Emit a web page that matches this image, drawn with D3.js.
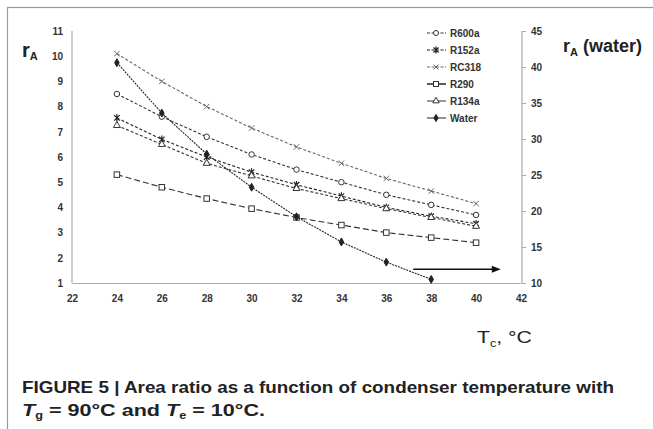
<!DOCTYPE html>
<html>
<head>
<meta charset="utf-8">
<script src="https://cdn.jsdelivr.net/npm/d3@7"></script>
<style>
  body { margin: 0; background: #fff; }
  svg { display: block; }
</style>
</head>
<body>
<svg id="chart" width="653" height="429"></svg>
<script>
// condenser temperature (°C)
const temps = [24, 26, 28, 30, 32, 34, 36, 38, 40];
const tempsWater = [24, 26, 28, 30, 32, 34, 36, 38];

const r600a = [8.5, 7.6, 6.8, 6.1, 5.5, 5.0, 4.5, 4.1, 3.7];
const r152a = [7.55, 6.7, 6.0, 5.4, 4.9, 4.45, 4.0, 3.65, 3.35];
const rc318 = [10.1, 9.0, 8.0, 7.15, 6.4, 5.75, 5.15, 4.65, 4.15];
const r290 = [5.3, 4.8, 4.35, 3.95, 3.6, 3.3, 3.0, 2.8, 2.6];
const r134a = [7.25, 6.5, 5.75, 5.25, 4.75, 4.35, 3.95, 3.6, 3.25];
const water = [40.6, 33.6, 27.9, 23.3, 19.2, 15.7, 12.9, 10.5];

const xTicks = [22, 24, 26, 28, 30, 32, 34, 36, 38, 40, 42];
const yTicks = [1, 2, 3, 4, 5, 6, 7, 8, 9, 10, 11];
const y2Ticks = [10, 15, 20, 25, 30, 35, 40, 45];

// arrow pointing at the water axis
const arrowX = [37.2, 41.1];
const arrowY = 11.9;

const series = [
  { name: 'R600a', values: r600a, x: temps, marker: 'circle', color: '#333', dash: '3,2', axis: 'left' },
  { name: 'R152a', values: r152a, x: temps, marker: 'star', color: '#222', dash: '3,2', axis: 'left' },
  { name: 'RC318', values: rc318, x: temps, marker: 'cross', color: '#666', dash: '3,2', axis: 'left' },
  { name: 'R290', values: r290, x: temps, marker: 'square', color: '#333', dash: '6,3', axis: 'left' },
  { name: 'R134a', values: r134a, x: temps, marker: 'triangle', color: '#333', dash: '3,2', axis: 'left' },
  { name: 'Water', values: water, x: tempsWater, marker: 'diamond', color: '#222', dash: '2,1', axis: 'right' }
];

const svg = d3.select('#chart');

// outer frame
svg.append('rect')
  .attr('x', 7.5).attr('y', 7.5)
  .attr('width', 700).attr('height', 500)
  .attr('fill', 'none').attr('stroke', '#999').attr('stroke-width', 1.2);

const x = d3.scaleLinear().domain([22, 42]).range([72, 521]);
const y = d3.scaleLinear().domain([1, 11]).range([283, 31]);
const y2 = d3.scaleLinear().domain([10, 45]).range([283, 31]);

const tickFont = 'bold 10px "Liberation Sans", Arial, sans-serif';

const gx = svg.append('g').attr('transform', 'translate(0,283)')
  .call(d3.axisBottom(x).tickValues(xTicks).tickSize(0).tickPadding(12).tickFormat(d3.format('d')));
const gy = svg.append('g').attr('transform', 'translate(72,0)')
  .call(d3.axisLeft(y).tickValues(yTicks).tickSize(0).tickPadding(9).tickFormat(d3.format('d')));
const gy2 = svg.append('g').attr('transform', 'translate(522,0)')
  .call(d3.axisRight(y2).tickValues(y2Ticks).tickSize(4).tickPadding(5).tickFormat(d3.format('d')));

[gx, gy, gy2].forEach(g => {
  g.select('.domain').attr('stroke', '#aaa').attr('stroke-width', 1.2);
  g.selectAll('.tick line').attr('stroke', '#aaa');
  g.selectAll('.tick text').style('font', tickFont).attr('fill', '#333');
});
gy.select('.domain').attr('d', 'M0,283V31');
gy2.select('.domain').attr('d', 'M0,283V31');

function drawMarker(g, type, cx, cy, s, color) {
  const m = g.append('g').attr('transform', `translate(${cx},${cy})`);
  if (type === 'circle') {
    m.append('circle').attr('r', s * 0.5).attr('fill', '#fff').attr('stroke', color).attr('stroke-width', 1);
  } else if (type === 'square') {
    m.append('rect').attr('x', -s / 2).attr('y', -s / 2).attr('width', s).attr('height', s)
      .attr('fill', '#fff').attr('stroke', color).attr('stroke-width', 1);
  } else if (type === 'triangle') {
    m.append('path').attr('d', d3.symbol(d3.symbolTriangle, s * s * 0.7)())
      .attr('fill', '#fff').attr('stroke', color).attr('stroke-width', 1);
  } else if (type === 'diamond') {
    m.append('path').attr('d', d3.symbol(d3.symbolDiamond, s * s * 0.6)())
      .attr('fill', color).attr('stroke', color);
  } else if (type === 'cross') {
    const h = s / 2;
    m.append('path').attr('d', `M${-h},${-h}L${h},${h}M${-h},${h}L${h},${-h}`)
      .attr('stroke', color).attr('stroke-width', 1);
  } else if (type === 'star') {
    const h = s / 2;
    m.append('path').attr('d', `M${-h},${-h}L${h},${h}M${-h},${h}L${h},${-h}M0,${-h - 1}V${h + 1}`)
      .attr('stroke', color).attr('stroke-width', 1.2);
  }
}

const plot = svg.append('g');

series.forEach(s => {
  const ys = s.axis === 'left' ? y : y2;
  const pts = s.values.map((v, i) => [x(s.x[i]), ys(v)]);
  plot.append('path')
    .attr('d', d3.line()(pts))
    .attr('fill', 'none')
    .attr('stroke', s.color)
    .attr('stroke-width', 1.1)
    .attr('stroke-dasharray', s.dash);
  pts.forEach(p => drawMarker(plot, s.marker, p[0], p[1], 5.5, s.color));
});

// arrow toward right axis
const ax0 = x(arrowX[0]), ax1 = x(arrowX[1]), ay = y2(arrowY);
plot.append('line')
  .attr('x1', ax0).attr('y1', ay).attr('x2', ax1 - 6).attr('y2', ay)
  .attr('stroke', '#111').attr('stroke-width', 1.4);
plot.append('path')
  .attr('d', `M${ax1},${ay}L${ax1 - 9},${ay - 3.5}L${ax1 - 9},${ay + 3.5}Z`)
  .attr('fill', '#111');

// legend
const legend = svg.append('g');
series.forEach((s, i) => {
  const ly = 33 + i * 17;
  const lineDash = (s.name === 'R290' || s.name === 'Water' || s.name === 'R134a') ? null : '3,1.5';
  legend.append('line')
    .attr('x1', 427).attr('x2', 446).attr('y1', ly).attr('y2', ly)
    .attr('stroke', s.color)
    .attr('stroke-width', s.name === 'R290' ? 1.6 : 1)
    .attr('stroke-dasharray', lineDash);
  drawMarker(legend, s.marker, 436, ly, 5, s.color);
  legend.append('text')
    .attr('x', 450).attr('y', ly + 3.5)
    .style('font', 'bold 10px "Liberation Sans", Arial, sans-serif')
    .attr('fill', '#333')
    .text(s.name);
});

// axis titles
const leftTitle = svg.append('text').attr('x', 22).attr('y', 57)
  .style('font', 'bold 20px "Liberation Sans", Arial, sans-serif').attr('fill', '#222');
leftTitle.append('tspan').text('r');
leftTitle.append('tspan').attr('dy', 3).style('font-size', '11px').text('A');

const rightTitle = svg.append('text').attr('x', 563).attr('y', 52)
  .style('font', 'bold 18px "Liberation Sans", Arial, sans-serif').attr('fill', '#222');
rightTitle.append('tspan').text('r');
rightTitle.append('tspan').attr('dy', 4).style('font-size', '11px').text('A');
rightTitle.append('tspan').attr('dy', -4).text(' (water)');

const xTitle = svg.append('text').attr('x', 477).attr('y', 343)
  .style('font', '17px "Liberation Sans Narrow", "Liberation Sans", Arial, sans-serif').attr('fill', '#222')
  .attr('textLength', 55).attr('lengthAdjust', 'spacingAndGlyphs');
xTitle.append('tspan').text('T');
xTitle.append('tspan').attr('dy', 4).style('font-size', '10px').text('c');
xTitle.append('tspan').attr('dy', -4).text(', °C');

// caption
const capFont = 'bold 17px "Liberation Sans Narrow", "Liberation Sans", Arial, sans-serif';
svg.append('text').attr('x', 22).attr('y', 393)
  .style('font', capFont).attr('fill', '#222')
  .attr('textLength', 592).attr('lengthAdjust', 'spacingAndGlyphs')
  .text('FIGURE 5 | Area ratio as a function of condenser temperature with');

const cap2 = svg.append('text').attr('x', 22).attr('y', 416)
  .style('font', capFont).attr('fill', '#222')
  .attr('textLength', 243).attr('lengthAdjust', 'spacingAndGlyphs');
cap2.append('tspan').style('font-style', 'italic').text('T');
cap2.append('tspan').attr('dy', 3).style('font-size', '10px').text('g');
cap2.append('tspan').attr('dy', -3).text(' = 90°C and ');
cap2.append('tspan').style('font-style', 'italic').text('T');
cap2.append('tspan').attr('dy', 3).style('font-size', '10px').text('e');
cap2.append('tspan').attr('dy', -3).text(' = 10°C.');
</script>
</body>
</html>
